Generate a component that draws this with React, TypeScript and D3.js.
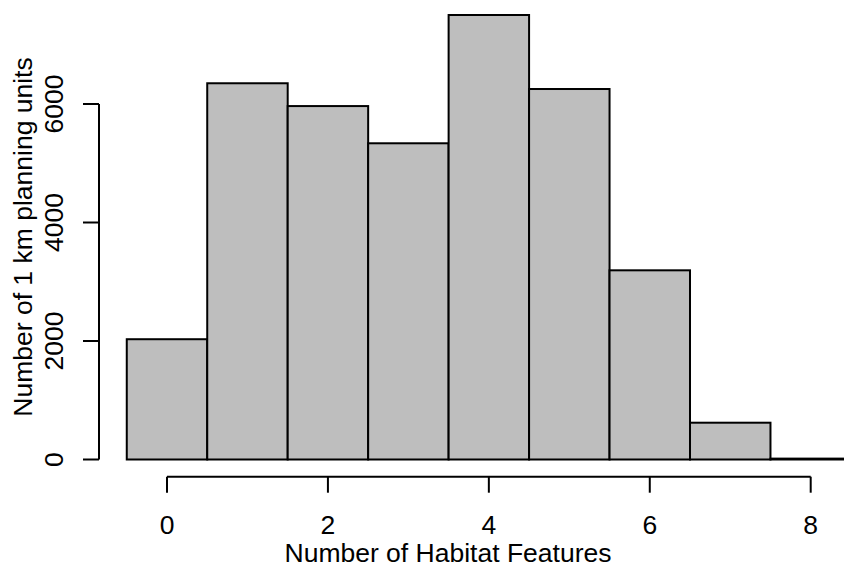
import React from "react";
import * as d3 from "d3";

const binCenters = [0, 1, 2, 3, 4, 5, 6, 7, 8];
const counts = [2030, 6350, 5965, 5337, 7502, 6253, 3193, 621, 15];
const xTicks = [0, 2, 4, 6, 8];
const yTicks = [0, 2000, 4000, 6000];
const xTitle = "Number of Habitat Features";
const yTitle = "Number of 1 km planning units";

const W = 844;
const H = 566;

export default function App() {
  const x = d3.scaleLinear().domain([0, 8]).range([167, 810.7]);
  const y = d3.scaleLinear().domain([0, 6000]).range([459.5, 104]);
  const font = "'Liberation Sans', Arial, sans-serif";
  const fs = 26.5;
  const axisY = 476.7;
  const axisX = 99;

  return (
    <svg
      width={W}
      height={H}
      style={{ position: "absolute", left: 0, top: 0, background: "#fff" }}
      fontFamily={font}
    >
      {binCenters.map((c, i) => (
        <rect
          key={c}
          x={x(c - 0.5)}
          y={y(counts[i])}
          width={x(c + 0.5) - x(c - 0.5)}
          height={y(0) - y(counts[i])}
          fill="#bebebe"
          stroke="#000"
          strokeWidth={2}
        />
      ))}
      {/* x axis */}
      <line x1={x(xTicks[0])} x2={x(xTicks[xTicks.length - 1])} y1={axisY} y2={axisY} stroke="#000" strokeWidth={2} />
      {xTicks.map((t) => (
        <g key={t}>
          <line x1={x(t)} x2={x(t)} y1={axisY} y2={axisY + 16} stroke="#000" strokeWidth={2} />
          <text x={x(t)} y={534} textAnchor="middle" fontSize={fs} fill="#000">
            {t}
          </text>
        </g>
      ))}
      {/* y axis */}
      <line x1={axisX} x2={axisX} y1={y(yTicks[0])} y2={y(yTicks[yTicks.length - 1])} stroke="#000" strokeWidth={2} />
      {yTicks.map((t) => (
        <g key={t}>
          <line x1={axisX - 16} x2={axisX} y1={y(t)} y2={y(t)} stroke="#000" strokeWidth={2} />
          <text
            transform={`translate(62.5,${y(t)}) rotate(-90)`}
            textAnchor="middle"
            fontSize={fs}
            fill="#000"
          >
            {t}
          </text>
        </g>
      ))}
      <text x={448} y={561.5} textAnchor="middle" fontSize={fs} fill="#000">
        {xTitle}
      </text>
      <text transform={`translate(32,237) rotate(-90)`} textAnchor="middle" fontSize={fs} fill="#000">
        {yTitle}
      </text>
    </svg>
  );
}
